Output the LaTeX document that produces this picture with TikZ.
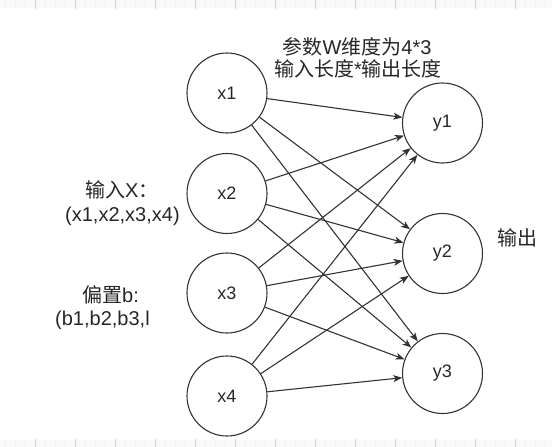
\documentclass[tikz,border=0pt]{standalone}
\usepackage{fontspec}
\setmainfont{Liberation Sans}
\newfontfamily\cjk{Noto Sans CJK SC}
\usetikzlibrary{arrows.meta}
\definecolor{ink}{HTML}{333333}
\tikzset{
  neuron/.style={circle, draw=ink, line width=1.1pt, minimum size=80pt, inner sep=0pt,
    font=\fontsize{18}{20}\selectfont, text=black!85},
  conn/.style={draw=ink, line width=1.1pt, -{Stealth[length=9pt,width=7pt,inset=2.5pt]}},
  lbl/.style={inner sep=0pt, font=\fontsize{20}{22}\selectfont, text=black!85},
}
\begin{document}
\begin{tikzpicture}[x=1pt,y=-1pt]
\useasboundingbox (0,0) rectangle (552,447);
% faint canvas grid bands
\fill[gray!5] (0,0) rectangle (552,8);
\fill[gray!5] (0,440) rectangle (552,447);
\foreach \i in {0,...,54} {
  \pgfmathsetmacro{\xx}{5+10*\i}
  \draw[gray!12, line width=0.5pt] (\xx,0) -- (\xx,8);
  \draw[gray!12, line width=0.5pt] (\xx,440) -- (\xx,447);
}
\foreach \i in {0,...,12} {
  \pgfmathsetmacro{\xx}{35+40*\i}
  \draw[gray!35, line width=0.5pt] (\xx,0) -- (\xx,9);
  \draw[gray!35, line width=0.5pt] (\xx,439) -- (\xx,447);
}
% neurons
\node[neuron] (x1) at (227,93) {x1};
\node[neuron] (x2) at (227,193.5) {x2};
\node[neuron] (x3) at (227,293) {x3};
\node[neuron] (x4) at (227,396) {x4};
\node[neuron] (y1) at (442.5,123) {y1};
\node[neuron] (y2) at (442.5,253.5) {y2};
\node[neuron] (y3) at (442.5,373.5) {y3};
% connections
\foreach \a in {x1,x2,x3,x4} {
  \foreach \b in {y1,y2,y3} {
    \draw[conn] (\a) -- (\b);
  }
}
% labels
\node[lbl, anchor=base] (t1) at (357,54) {{\cjk 参数}W{\cjk 维度为}4*3};
\node[lbl, anchor=base] (t2) at (358,76) {{\cjk 输入长度}*{\cjk 输出长度}};
\node[lbl, anchor=base west] (in1) at (85,197) {{\cjk 输入}X{\cjk ：}};
\node[lbl, anchor=base west] (in2) at (65,221) {(x1,x2,x3,x4)};
\node[lbl, anchor=base west] (b1) at (82,302) {{\cjk 偏置}b:};
\node[lbl, anchor=base west] (b2) at (55,325) {(b1,b2,b3,l};
\node[lbl, anchor=base west] (out) at (497,245) {\cjk 输出};
\end{tikzpicture}
\end{document}
